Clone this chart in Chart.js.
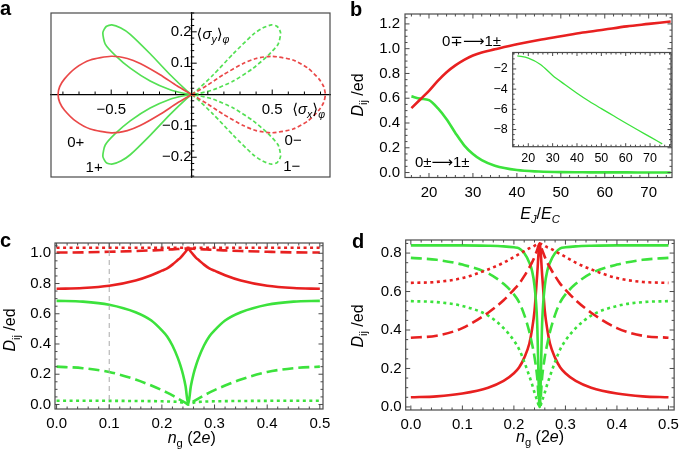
<!DOCTYPE html>
<html>
<head>
<meta charset="utf-8">
<script src="https://cdn.jsdelivr.net/npm/chart.js@4.4.1/dist/chart.umd.min.js"></script>
<style>
html, body { margin: 0; padding: 0; background: #fff; }
#fig { position: relative; width: 685px; height: 459px; overflow: hidden; }
canvas { position: absolute; }
</style>
</head>
<body>
<div id="fig">
  <canvas id="pa" width="340" height="200" style="left:0;top:0"></canvas>
  <canvas id="pb" width="345" height="230" style="left:340px;top:0"></canvas>
  <canvas id="pc" width="340" height="237" style="left:0;top:222px"></canvas>
  <canvas id="pd" width="345" height="237" style="left:340px;top:222px"></canvas>
  <canvas id="pin" width="210" height="135" style="left:470px;top:40px"></canvas>
</div>
<script>
// ---- data ----

// panel a : loops of <sigma_x>, <sigma_y>
const aRedX  = [0,-0.092,-0.196,-0.32,-0.4,-0.5,-0.63,-0.72,-0.79,-0.82,-0.83,-0.82,-0.79,-0.72,-0.63,-0.5,-0.4,-0.32,-0.196,-0.092,0];
const aRedY  = [0,0.028,0.063,0.099,0.115,0.122,0.11,0.085,0.05,0.025,0,-0.025,-0.05,-0.085,-0.11,-0.122,-0.115,-0.099,-0.063,-0.028,0];
const aRedRX = [0,0.092,0.196,0.32,0.4,0.5,0.63,0.72,0.79,0.82,0.83,0.82,0.79,0.72,0.63,0.5,0.4,0.32,0.196,0.092,0];
const aGrnX  = [0,-0.03,-0.134,-0.258,-0.382,-0.44,-0.496,-0.531,-0.552,-0.537,-0.475,-0.382,-0.258,-0.134,-0.05,0];
const aGrnUpY = [0,0.012,0.063,0.13,0.192,0.212,0.222,0.217,0.197,0.161,0.125,0.084,0.043,0.015,0.004,0];
const aGrnDnY = [0,-0.012,-0.063,-0.13,-0.192,-0.212,-0.222,-0.217,-0.197,-0.161,-0.125,-0.084,-0.043,-0.015,-0.004,0];
const aGrnRX = [0,0.03,0.134,0.258,0.382,0.44,0.496,0.531,0.552,0.537,0.475,0.382,0.258,0.134,0.05,0];

// panel b : D_ij vs E_J/E_C
const ejec = [16,18,20,22,24,26,28,30,32,35,40,45,50,55,60,65,70,75];
const bRed = [0.52,0.59,0.66,0.74,0.81,0.865,0.91,0.945,0.97,0.995,1.035,1.07,1.1,1.13,1.155,1.18,1.2,1.22];
const bGreen = [0.615,0.597,0.585,0.52,0.43,0.32,0.22,0.15,0.1,0.055,0.02,0.008,0.003,0.002,0.001,0.001,0,0];
const insetX = [15.5,20,25,30,35,40,45,50,55,60,65,70,75];
const insetY = [-0.7,-0.92,-1.55,-2.64,-3.54,-4.4,-5.2,-5.93,-6.64,-7.35,-8.05,-8.73,-9.42];

// panels c, d : D_ij vs n_g
const ng = [0,0.05,0.1,0.15,0.18,0.2,0.21,0.22,0.23,0.235,0.24,0.245,0.25,0.255,0.26,0.265,0.27,0.28,0.29,0.3,0.32,0.35,0.4,0.45,0.5];
const cRedDot   = [1.037,1.037,1.037,1.037,1.037,1.037,1.037,1.037,1.037,1.037,1.037,1.037,1.037,1.037,1.037,1.037,1.037,1.037,1.037,1.037,1.037,1.037,1.037,1.037,1.037];
const cRedDash  = [1.005,1.006,1.01,1.015,1.019,1.022,1.024,1.026,1.028,1.029,1.03,1.031,1.032,1.031,1.03,1.029,1.028,1.026,1.024,1.022,1.019,1.015,1.01,1.006,1.005];
const cRedSolid = [0.765,0.77,0.785,0.82,0.855,0.885,0.9,0.925,0.955,0.97,0.99,1.01,1.03,1.01,0.99,0.97,0.955,0.925,0.9,0.885,0.855,0.82,0.785,0.77,0.765];
const cGrnSolid = [0.685,0.68,0.66,0.61,0.555,0.49,0.45,0.39,0.31,0.26,0.2,0.12,0,0.12,0.2,0.26,0.31,0.39,0.45,0.49,0.555,0.61,0.66,0.68,0.685];
const cGrnDash  = [0.25,0.24,0.215,0.165,0.125,0.095,0.078,0.06,0.04,0.03,0.02,0.01,0,0.01,0.02,0.03,0.04,0.06,0.078,0.095,0.125,0.165,0.215,0.24,0.25];
const cGrnDot   = [0.025,0.025,0.024,0.023,0.022,0.021,0.02,0.019,0.017,0.015,0.012,0.007,0,0.007,0.012,0.015,0.017,0.019,0.02,0.021,0.022,0.023,0.024,0.025,0.025];
const cMarkX = 0.1;

const dGrnSolid = [0.84,0.84,0.84,0.838,0.835,0.83,0.825,0.8,0.75,0.71,0.63,0.45,0,0.45,0.63,0.71,0.75,0.8,0.825,0.83,0.835,0.838,0.84,0.84,0.84];
const dGrnDash  = [0.775,0.765,0.74,0.695,0.64,0.585,0.545,0.48,0.39,0.33,0.26,0.16,0,0.16,0.26,0.33,0.39,0.48,0.545,0.585,0.64,0.695,0.74,0.765,0.775];
const dGrnDot   = [0.55,0.545,0.525,0.475,0.41,0.345,0.3,0.235,0.16,0.12,0.075,0.035,0,0.035,0.075,0.12,0.16,0.235,0.3,0.345,0.41,0.475,0.525,0.545,0.55];
const dRedSolid = [0.05,0.055,0.07,0.1,0.135,0.175,0.205,0.255,0.33,0.4,0.5,0.68,0.85,0.68,0.5,0.4,0.33,0.255,0.205,0.175,0.135,0.1,0.07,0.055,0.05];
const dRedDash  = [0.36,0.37,0.41,0.49,0.555,0.61,0.64,0.68,0.725,0.75,0.78,0.815,0.85,0.815,0.78,0.75,0.725,0.68,0.64,0.61,0.555,0.49,0.41,0.37,0.36];
const dRedDot   = [0.645,0.65,0.67,0.715,0.75,0.78,0.795,0.81,0.825,0.83,0.838,0.845,0.85,0.845,0.838,0.83,0.825,0.81,0.795,0.78,0.75,0.715,0.67,0.65,0.645];

// axis ranges
const aXRange = [-0.874, 0.859], aYRange = [-0.263, 0.26];
const bXRange = [14.54, 75.3], bYRange = [-0.04, 1.28];
const inXRange = [13.6, 78.6], inYRange = [-9.7, -0.37];
const cXRange = [-0.003, 0.506], cYRange = [-0.03, 1.068];
const dXRange = [-0.01, 0.511], dYRange = [-0.016, 0.868];

// ---- styling ----
const FONT = "'Liberation Sans', 'DejaVu Sans', Arial, sans-serif";
const RED = 'rgb(232,32,32)';
const GREEN = 'rgb(60,226,60)';
const RED_A = 'rgb(234,72,72)';
const GREEN_A = 'rgb(84,224,84)';
const DASH = [11, 5];
const DOT = [3, 3.5];

const fmt1 = v => v.toFixed(1).replace('-', '\u2212');
const fmt0 = v => String(Math.round(v)).replace('-', '\u2212');

function pts(xs, ys) {
    return xs.map((x, i) => ({ x: x, y: ys[i] }));
}

function curve(xs, ys, color, width, dash, extra) {
    return Object.assign({
        data: pts(xs, ys),
        borderColor: color,
        borderWidth: width,
        borderDash: dash || [],
        showLine: true,
        pointRadius: 0,
        pointHoverRadius: 0,
        fill: false,
        cubicInterpolationMode: 'monotone'
    }, extra || {});
}

// text with italic / subscript runs
function drawRuns(ctx, runs, x, y, size, align) {
    const parts = runs.map(r => {
        const f = r[1] || '';
        const sub = f.includes('s');
        const fs = sub ? size * 0.7 : size;
        const font = (f.includes('i') ? 'italic ' : '') + (f.includes('b') ? 'bold ' : '') + fs + 'px ' + FONT;
        ctx.font = font;
        return { t: r[0], font: font, sub: sub, w: ctx.measureText(r[0]).width };
    });
    const total = parts.reduce((s, p) => s + p.w, 0);
    let cx = align === 'center' ? x - total / 2 : x;
    ctx.textAlign = 'left';
    ctx.textBaseline = 'alphabetic';
    ctx.fillStyle = '#000';
    parts.forEach(p => {
        ctx.font = p.font;
        ctx.fillText(p.t, cx, y + (p.sub ? size * 0.28 : 0));
        cx += p.w;
    });
}

function tickVals(scale, step) {
    const out = [];
    for (let i = Math.ceil(scale.min / step - 1e-6); i * step <= scale.max + 1e-9; i++) out.push(i * step);
    return out;
}
const isMajor = (v, m) => Math.abs(v / m - Math.round(v / m)) < 1e-6;

// frame, ticks, titles, notes
const deco = {
    id: 'deco',
    beforeDatasetsDraw(chart, args, o) {
        if (!o.fill) return;
        const a = chart.chartArea, ctx = chart.ctx;
        ctx.save();
        ctx.fillStyle = o.fill;
        ctx.fillRect(a.left, a.top, a.right - a.left, a.bottom - a.top);
        ctx.restore();
    },
    afterDraw(chart, args, o) {
        const ctx = chart.ctx, a = chart.chartArea;
        const xs = chart.scales.x, ys = chart.scales.y;
        ctx.save();
        ctx.strokeStyle = '#4a4a4a';
        ctx.lineWidth = 1.2;
        if (o.frame) ctx.strokeRect(a.left, a.top, a.right - a.left, a.bottom - a.top);

        if (o.ticks) {
            const L = o.tickLen || [4.5, 2.5];
            ctx.lineWidth = 1;
            ctx.beginPath();
            tickVals(xs, o.ticks.x[1]).forEach(v => {
                const len = isMajor(v, o.ticks.x[0]) ? L[0] : L[1];
                const px = xs.getPixelForValue(v);
                ctx.moveTo(px, a.bottom); ctx.lineTo(px, a.bottom - len);
                ctx.moveTo(px, a.top); ctx.lineTo(px, a.top + len);
            });
            tickVals(ys, o.ticks.y[1]).forEach(v => {
                const len = isMajor(v, o.ticks.y[0]) ? L[0] : L[1];
                const py = ys.getPixelForValue(v);
                ctx.moveTo(a.left, py); ctx.lineTo(a.left + len, py);
                ctx.moveTo(a.right, py); ctx.lineTo(a.right - len, py);
            });
            ctx.stroke();
        }

        if (o.axisTicks) {
            const x0 = xs.getPixelForValue(0), y0 = ys.getPixelForValue(0);
            ctx.strokeStyle = '#000';
            ctx.lineWidth = 1;
            ctx.beginPath();
            tickVals(xs, o.axisTicks.x[1]).forEach(v => {
                const len = isMajor(v, o.axisTicks.x[0]) ? 5 : 3;
                const px = xs.getPixelForValue(v);
                ctx.moveTo(px, y0); ctx.lineTo(px, y0 - len);
            });
            tickVals(ys, o.axisTicks.y[1]).forEach(v => {
                const len = isMajor(v, o.axisTicks.y[0]) ? 5 : 2.5;
                const py = ys.getPixelForValue(v);
                ctx.moveTo(x0 - 1, py); ctx.lineTo(x0 + len, py);
            });
            ctx.stroke();
        }

        (o.notes || []).forEach(n => {
            const px = xs.getPixelForValue(n.x), py = ys.getPixelForValue(n.y);
            drawRuns(ctx, n.runs, px, py + n.size * 0.36, n.size, n.align || 'left');
        });

        if (o.xTitle) drawRuns(ctx, o.xTitle.runs, o.xTitle.x, o.xTitle.y, o.xTitle.size, 'center');
        if (o.yTitle) {
            ctx.save();
            ctx.translate(o.yTitle.x, o.yTitle.y);
            ctx.rotate(-Math.PI / 2);
            drawRuns(ctx, o.yTitle.runs, 0, o.yTitle.size * 0.3, o.yTitle.size, 'center');
            ctx.restore();
        }
        if (o.letter) drawRuns(ctx, [[o.letter.t, 'b']], o.letter.x, o.letter.y, 20, 'left');
        ctx.restore();
    }
};

function frameOpts(p) {
    return {
        responsive: false,
        animation: false,
        devicePixelRatio: 1,
        events: [],
        layout: { padding: p.pad },
        plugins: { legend: { display: false }, tooltip: { enabled: false }, deco: p.deco },
        scales: {
            x: {
                type: 'linear', position: 'bottom', min: p.x[0], max: p.x[1],
                grid: { display: false, drawTicks: false }, border: { display: false },
                ticks: { stepSize: p.xStep, includeBounds: false, autoSkip: false, maxRotation: 0,
                    padding: p.tickPad[0], color: '#000', font: { family: FONT, size: p.font }, callback: p.fx },
                afterFit: s => { s.height = p.xH; }
            },
            y: {
                type: 'linear', position: 'left', min: p.y[0], max: p.y[1],
                grid: { display: false, drawTicks: false }, border: { display: false },
                ticks: { stepSize: p.yStep, includeBounds: false, autoSkip: false,
                    padding: p.tickPad[1], color: '#000', font: { family: FONT, size: p.font }, callback: p.fy },
                afterFit: s => { s.width = p.yW; }
            }
        }
    };
}

const yTitleRuns = [['D', 'i'], ['ij', 's'], [' /ed', '']];
const ngRuns = [['n', 'i'], ['g', 's'], [' (2', ''], ['e', 'i'], [')', '']];

// ---- panel a ----
const aOpts = {
    responsive: false, animation: false, devicePixelRatio: 1, events: [],
    layout: { padding: { left: 51, top: 8, right: 10, bottom: 23 } },
    plugins: {
        legend: { display: false }, tooltip: { enabled: false },
        deco: {
            frame: true,
            axisTicks: { x: [0.5, 0.1], y: [0.1, 0.02] },
            letter: { t: 'a', x: 0, y: 15 },
            notes: [
                { runs: [['0+', '']], x: -0.72, y: -0.15, size: 15, align: 'center' },
                { runs: [['1+', '']], x: -0.606, y: -0.229, size: 15, align: 'center' },
                { runs: [['0\u2212', '']], x: 0.63, y: -0.144, size: 15, align: 'center' },
                { runs: [['1\u2212', '']], x: 0.621, y: -0.227, size: 15, align: 'center' },
                { runs: [['\u27e8', ''], ['\u03c3', 'i'], ['y', 'is'], ['\u27e9', ''], ['\u03c6', 'is']], x: 0.03, y: 0.195, size: 15 },
                { runs: [['\u27e8', ''], ['\u03c3', 'i'], ['x', 'is'], ['\u27e9', ''], ['\u03c6', 'is']], x: 0.624, y: -0.045, size: 15 }
            ]
        }
    },
    scales: {
        x: {
            type: 'linear', position: { y: 0 }, min: aXRange[0], max: aXRange[1],
            grid: { display: false, drawTicks: false }, border: { display: true, color: '#000', width: 1.2 },
            ticks: { stepSize: 0.5, includeBounds: false, autoSkip: false, maxRotation: 0, padding: 6,
                color: '#000', font: { family: FONT, size: 15 }, callback: v => (v === 0 ? '' : fmt1(v)) },
            afterFit: s => { s.height = 0; }
        },
        y: {
            type: 'linear', position: { x: 0 }, min: aYRange[0], max: aYRange[1],
            grid: { display: false, drawTicks: false }, border: { display: true, color: '#000', width: 1.2 },
            ticks: { stepSize: 0.1, includeBounds: false, autoSkip: false, padding: 4,
                color: '#000', font: { family: FONT, size: 15 }, callback: v => (Math.abs(v) < 1e-9 ? '' : fmt1(v)) },
            afterFit: s => { s.width = 0; }
        }
    }
};
const aLoop = { cubicInterpolationMode: 'default', tension: 0.22 };
new Chart(document.getElementById('pa'), {
    type: 'scatter',
    data: {
        datasets: [
            curve(aRedX, aRedY, RED_A, 1.7, [], aLoop),
            curve(aGrnX, aGrnUpY, GREEN_A, 1.7, [], aLoop),
            curve(aGrnX, aGrnDnY, GREEN_A, 1.7, [], aLoop),
            curve(aRedRX, aRedY, RED_A, 1.7, [4, 2.5], aLoop),
            curve(aGrnRX, aGrnUpY, GREEN_A, 1.7, [4, 2.5], aLoop),
            curve(aGrnRX, aGrnDnY, GREEN_A, 1.7, [4, 2.5], aLoop)
        ]
    },
    options: aOpts,
    plugins: [deco]
});

// ---- panel b ----
new Chart(document.getElementById('pb'), {
    type: 'scatter',
    data: {
        datasets: [
            curve(ejec, bRed, RED, 2.6),
            curve(ejec, bGreen, GREEN, 2.6)
        ]
    },
    options: frameOpts({
        pad: { left: 0, top: 13, right: 13, bottom: 0 },
        x: bXRange, y: bYRange, xStep: 10, yStep: 0.2, xH: 52.5, yW: 65,
        tickPad: [6, 5], font: 15, fx: fmt0, fy: fmt1,
        deco: {
            frame: true,
            ticks: { x: [10, 2], y: [0.2, 0.05] },
            letter: { t: 'b', x: 10, y: 16 },
            xTitle: { runs: [['E', 'i'], ['J', 'is'], ['/', ''], ['E', 'i'], ['C', 'is']], x: 200, y: 219, size: 16 },
            yTitle: { runs: yTitleRuns, x: 18, y: 95, size: 16 },
            notes: [
                { runs: [['0\u2213\u27f61\u00b1', '']], x: 22.96, y: 1.062, size: 15 },
                { runs: [['0\u00b1\u27f61\u00b1', '']], x: 16.8, y: 0.088, size: 15 }
            ]
        }
    }),
    plugins: [deco]
});

// ---- inset of b ----
new Chart(document.getElementById('pin'), {
    type: 'scatter',
    data: { datasets: [curve(insetX, insetY, GREEN, 1.3)] },
    options: frameOpts({
        pad: { left: 0, top: 11.7, right: 9, bottom: 0 },
        x: inXRange, y: inYRange, xStep: 10, yStep: 2, xH: 28.3, yW: 42.7,
        tickPad: [4, 5], font: 12.5, fx: fmt0, fy: fmt0,
        deco: {
            fill: '#fff',
            frame: true,
            tickLen: [3.5, 2],
            ticks: { x: [10, 2], y: [2, 0.5] }
        }
    }),
    plugins: [deco]
});

// ---- panel c ----
new Chart(document.getElementById('pc'), {
    type: 'scatter',
    data: {
        datasets: [
            curve([cMarkX, cMarkX], cYRange, '#aaaaaa', 1, [5, 4], { cubicInterpolationMode: 'default' }),
            curve(ng, cRedDot, RED, 2.6, DOT),
            curve(ng, cRedDash, RED, 2.6, DASH),
            curve(ng, cRedSolid, RED, 2.6),
            curve(ng, cGrnSolid, GREEN, 2.6),
            curve(ng, cGrnDash, GREEN, 2.6, DASH),
            curve(ng, cGrnDot, GREEN, 2.6, DOT)
        ]
    },
    options: frameOpts({
        pad: { left: 0, top: 21, right: 17, bottom: 0 },
        x: cXRange, y: cYRange, xStep: 0.1, yStep: 0.2, xH: 50, yW: 55,
        tickPad: [6, 4], font: 15, fx: fmt1, fy: fmt1,
        deco: {
            frame: true,
            ticks: { x: [0.1, 0.02], y: [0.2, 0.05] },
            letter: { t: 'c', x: 0, y: 25 },
            xTitle: { runs: ngRuns, x: 191.7, y: 220.7, size: 16 },
            yTitle: { runs: yTitleRuns, x: 10.5, y: 108, size: 16 }
        }
    }),
    plugins: [deco]
});

// ---- panel d ----
new Chart(document.getElementById('pd'), {
    type: 'scatter',
    data: {
        datasets: [
            curve(ng, dRedDot, RED, 2.6, DOT),
            curve(ng, dRedDash, RED, 2.6, DASH),
            curve(ng, dGrnDot, GREEN, 2.6, DOT),
            curve(ng, dGrnDash, GREEN, 2.6, DASH),
            curve(ng, dGrnSolid, GREEN, 2.6),
            curve(ng, dRedSolid, RED, 2.6)
        ]
    },
    options: frameOpts({
        pad: { left: 0, top: 18, right: 5, bottom: 0 },
        x: dXRange, y: dYRange, xStep: 0.1, yStep: 0.2, xH: 49, yW: 65.7,
        tickPad: [6, 4], font: 15, fx: fmt1, fy: fmt1,
        deco: {
            frame: true,
            ticks: { x: [0.1, 0.02], y: [0.2, 0.05] },
            letter: { t: 'd', x: 12, y: 26 },
            xTitle: { runs: ngRuns, x: 200, y: 219.5, size: 16 },
            yTitle: { runs: yTitleRuns, x: 18, y: 104, size: 16 }
        }
    }),
    plugins: [deco]
});
</script>
</body>
</html>
